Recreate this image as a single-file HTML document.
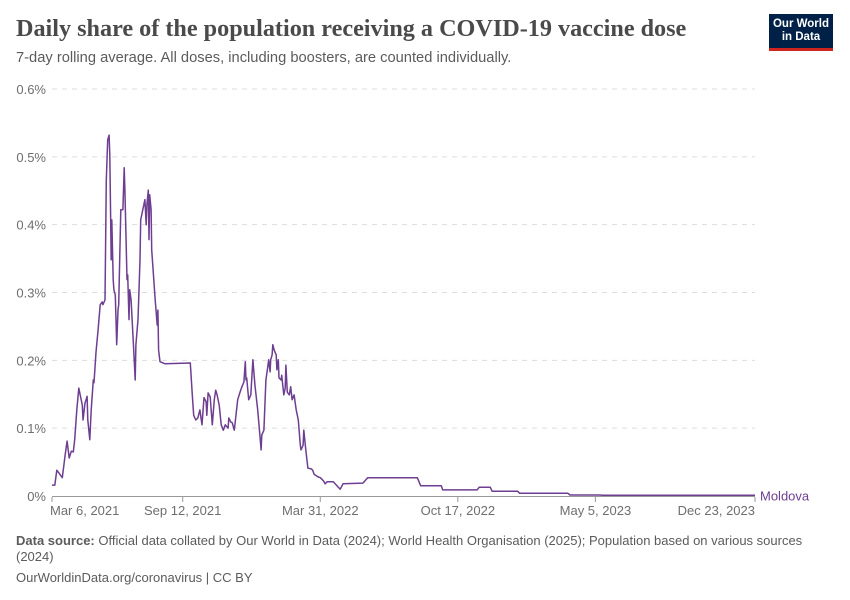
<!DOCTYPE html>
<html><head><meta charset="utf-8"><style>
body{margin:0;background:#fff;font-family:"Liberation Sans",sans-serif;}
#wrap{position:relative;width:850px;height:600px;overflow:hidden;}
.title{position:absolute;left:16px;top:15px;font-family:"Liberation Serif",serif;font-size:24.2px;font-weight:bold;color:#4a4a4a;}
.sub{position:absolute;left:16px;top:50px;font-size:14.7px;color:#5b5b5b;}
.logo{position:absolute;left:769px;top:14px;width:64px;height:37px;background:#002147;border-bottom:3px solid #ce261e;color:#fff;font-size:11.5px;font-weight:bold;text-align:center;line-height:13px;padding-top:4px;box-sizing:border-box;}
.foot{position:absolute;left:16px;font-size:13px;color:#5b5b5b;}
</style></head><body>
<div id="wrap">
<div class="title">Daily share of the population receiving a COVID-19 vaccine dose</div>
<div class="sub">7-day rolling average. All doses, including boosters, are counted individually.</div>
<div class="logo">Our World<br>in Data</div>
<svg id="chart" width="850" height="600" style="position:absolute;left:0;top:0"></svg>
<div class="foot" style="top:533px;width:790px;line-height:16px"><b>Data source:</b> Official data collated by Our World in Data (2024); World Health Organisation (2025); Population based on various sources (2024)</div>
<div class="foot" style="top:570px">OurWorldinData.org/coronavirus | CC BY</div>
</div>
<script>
const yTicks=[0,0.1,0.2,0.3,0.4,0.5,0.6];
const yTickLabels=["0%","0.1%","0.2%","0.3%","0.4%","0.5%","0.6%"];
const xTickDays=[0,190,390,590,790,1022];
const xTickLabels=["Mar 6, 2021","Sep 12, 2021","Mar 31, 2022","Oct 17, 2022","May 5, 2023","Dec 23, 2023"];
const seriesName="Moldova";
const days=[0,4,7,10,15,19,22,25,28,31,33,36,39,44,45,48,51,52,55,57,60,61,64,67,70,73,74,77,79,81,83,84,86,87,89,90,92,94,96,97,100,103,105,106,109,110,112,113,115,118,121,122,125,128,129,132,135,137,138,140,141,142,144,145,150,153,154,155,157,164,201,204,206,209,212,215,217,218,221,224,225,227,230,233,236,238,240,243,246,249,252,256,257,260,262,265,270,273,276,279,281,282,283,286,289,292,295,299,302,304,305,308,311,314,315,317,318,320,321,323,326,327,329,330,333,334,337,339,340,342,345,347,349,352,355,358,361,362,365,366,369,372,377,379,381,384,387,390,393,395,397,400,409,419,423,452,459,531,536,566,568,618,621,637,640,677,680,750,753,797,800,1022];
const values=[0.016,0.016,0.038,0.034,0.027,0.060,0.081,0.056,0.066,0.065,0.083,0.127,0.159,0.134,0.112,0.137,0.147,0.112,0.083,0.127,0.171,0.167,0.212,0.245,0.282,0.286,0.282,0.289,0.466,0.525,0.532,0.503,0.348,0.407,0.319,0.304,0.296,0.223,0.274,0.282,0.422,0.422,0.484,0.451,0.319,0.326,0.260,0.304,0.289,0.230,0.171,0.223,0.260,0.348,0.407,0.422,0.437,0.400,0.429,0.451,0.378,0.444,0.422,0.363,0.289,0.252,0.274,0.215,0.198,0.195,0.196,0.149,0.119,0.112,0.115,0.127,0.112,0.105,0.145,0.139,0.119,0.152,0.146,0.105,0.142,0.156,0.149,0.134,0.105,0.097,0.105,0.100,0.115,0.109,0.108,0.097,0.142,0.152,0.161,0.168,0.198,0.171,0.174,0.142,0.149,0.201,0.164,0.127,0.093,0.068,0.090,0.097,0.171,0.193,0.201,0.183,0.201,0.208,0.223,0.215,0.208,0.186,0.201,0.174,0.171,0.178,0.149,0.159,0.193,0.153,0.149,0.161,0.142,0.149,0.127,0.112,0.075,0.068,0.075,0.097,0.068,0.041,0.040,0.038,0.032,0.030,0.028,0.027,0.024,0.022,0.018,0.021,0.021,0.010,0.018,0.019,0.027,0.027,0.015,0.015,0.009,0.009,0.013,0.013,0.007,0.007,0.004,0.004,0.0015,0.0015,0.001,0.001];
const NS="http://www.w3.org/2000/svg";
const svg=document.getElementById('chart');
const X0=52,X1=755,Y0=496,Y1=89;
const xS=d=>X0+(X1-X0)*d/1022;
const yS=v=>Y0-(Y0-Y1)*v/0.6;
function mk(t,a){const e=document.createElementNS(NS,t);for(const k in a)e.setAttribute(k,a[k]);svg.appendChild(e);return e;}
yTicks.forEach((t,i)=>{
  if(i>0){const g=mk('line',{x1:52,x2:755,y1:yS(t),y2:yS(t),stroke:'#ddd','stroke-dasharray':'5,5'});
  
  }
  const l=mk('text',{x:46,y:yS(t)+5,'text-anchor':'end','font-size':13,fill:'#6e6e6e','font-family':'Liberation Sans'});
  l.textContent=yTickLabels[i];
  
  
});
const ax=mk('line',{x1:52,x2:755,y1:496.5,y2:496.5,stroke:'#999'});


xTickDays.forEach((d,i)=>{
  const x=xS(d);
  const tk=mk('line',{x1:x,x2:x,y1:497,y2:502,stroke:'#999'});
  
  
  const anchor=i==0?'start':(i==xTickDays.length-1?'end':'middle');
  const l=mk('text',{x:i==0?x-2:x,y:515,'text-anchor':anchor,'font-size':13,fill:'#6e6e6e','font-family':'Liberation Sans'});
  l.textContent=xTickLabels[i];
  
  
});
const p=mk('path',{d:days.map((d,i)=>(i?'L':'M')+xS(d).toFixed(1)+','+yS(values[i]).toFixed(1)).join(''),fill:'none',stroke:'#6d3e91','stroke-width':1.5,'stroke-linejoin':'round'});


const lab=mk('text',{x:760,y:yS(values[values.length-1])+5,'font-size':13,fill:'#6d3e91','font-family':'Liberation Sans'});
lab.textContent=seriesName;


</script>
</body></html>
